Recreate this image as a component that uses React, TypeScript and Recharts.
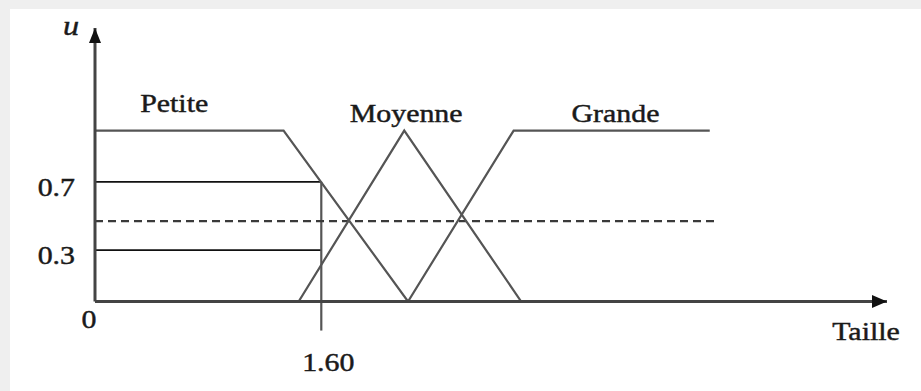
import {
  ComposedChart,
  Line,
  ReferenceDot,
  ReferenceLine,
  XAxis,
  YAxis
} from "recharts";

// fuzzy sets on "Taille" (m) -> membership u
const petiteT = [1.0, 1.5, 1.83];
const petiteU = [1, 1, 0];
const moyenneT = [1.54, 1.82, 2.13];
const moyenneU = [0, 1, 0];
const grandeT = [1.83, 2.11, 2.63];
const grandeU = [0, 1, 1];

const mesure = 1.6; // measured height
const degres = [0.7, 0.3]; // membership read at 1.60
const seuil = 0.47; // dashed cut level
const seuilFin = 2.65;

const tailleMin = 1.0;
const tailleMax = 3.1;
const uMax = 1.6;
const yTicks = [0, 0.3, 0.7];
const xTicks = [1.6];

const setLabels = [
  { name: "Petite", t: 1.21, u: 1, dy: -19 },
  { name: "Moyenne", t: 1.825, u: 1, dy: -9 },
  { name: "Grande", t: 2.38, u: 1, dy: -9 }
];

const zip = (ts: number[], us: number[]) => ts.map((t, i) => ({ t, u: us[i] }));

const FONT = "'Liberation Serif', 'Times New Roman', serif";
const INK = "#1a1a1a";
const LINE = "#555";
const AXIS = "#444";

function SerifText(props: { x: number; y: number; children: any; anchor?: string; size?: number; italic?: boolean }) {
  const { x, y, anchor = "middle", size = 26, italic } = props;
  return (
    <text
      transform={`translate(${x},${y}) scale(1.15,1)`}
      textAnchor={anchor as any}
      fontFamily={FONT}
      fontSize={size}
      fontStyle={italic ? "italic" : "normal"}
      fill={INK}
      stroke={INK}
      strokeWidth={0.45}
    >
      {props.children}
    </text>
  );
}

function YTick(props: any) {
  const { x, y, payload } = props;
  if (payload.value === 0) {
    return <SerifText x={x - 6} y={y + 26}>0</SerifText>;
  }
  return (
    <SerifText x={x - 20} y={y + 14} anchor="end">
      {payload.value.toFixed(1)}
    </SerifText>
  );
}

function XTick(props: any) {
  const { x, y, payload } = props;
  return <SerifText x={x + 7} y={y + 69}>{payload.value.toFixed(2)}</SerifText>;
}

function UpArrow(props: any) {
  const { cx, cy } = props;
  return (
    <g>
      <path d={`M${cx},${cy} L${cx - 6},${cy + 15} L${cx + 6},${cy + 15} Z`} fill="#111" />
      <SerifText x={cx - 24} y={cy + 7} italic size={28}>u</SerifText>
    </g>
  );
}

function RightArrow(props: any) {
  const { cx, cy } = props;
  return (
    <g>
      <path d={`M${cx},${cy} L${cx - 15},${cy - 6.5} L${cx - 15},${cy + 6.5} Z`} fill="#111" />
      <SerifText x={cx - 21} y={cy + 38}>Taille</SerifText>
    </g>
  );
}

export default function App() {
  return (
    <div style={{ position: "absolute", left: 0, top: 0, width: 921, height: 391, background: "#efefef" }}>
      <div style={{ position: "absolute", left: 10, top: 9, right: 0, bottom: 0, background: "#fff" }} />
      <div style={{ position: "absolute", left: 0, top: 0 }}>
        <ComposedChart width={921} height={391} margin={{ top: 28, right: 34, bottom: 30, left: 35 }}>
          <XAxis
            type="number"
            dataKey="t"
            domain={[tailleMin, tailleMax]}
            ticks={xTicks}
            tick={<XTick />}
            tickLine={false}
            tickSize={0}
            tickMargin={0}
            height={59.5}
            axisLine={{ stroke: AXIS, strokeWidth: 3 }}
            allowDataOverflow
          />
          <YAxis
            type="number"
            dataKey="u"
            domain={[0, uMax]}
            ticks={yTicks}
            tick={<YTick />}
            tickLine={false}
            tickSize={0}
            tickMargin={0}
            width={60}
            axisLine={{ stroke: AXIS, strokeWidth: 3 }}
            allowDataOverflow
          />

          {degres.map((d) => (
            <ReferenceLine
              key={d}
              segment={[{ x: tailleMin, y: d }, { x: mesure, y: d }]}
              stroke="#111"
              strokeWidth={1.7}
              ifOverflow="visible"
            />
          ))}
          <ReferenceLine
            segment={[{ x: mesure, y: degres[0] }, { x: mesure, y: -0.17 }]}
            stroke={LINE}
            strokeWidth={2.2}
            ifOverflow="visible"
          />
          <ReferenceLine
            segment={[{ x: tailleMin, y: seuil }, { x: seuilFin, y: seuil }]}
            stroke="#3a3a3a"
            strokeWidth={2.2}
            strokeDasharray="8 5"
            ifOverflow="visible"
          />

          <Line data={zip(petiteT, petiteU)} dataKey="u" type="linear" stroke={LINE} strokeWidth={2.2} dot={false} isAnimationActive={false} />
          <Line data={zip(moyenneT, moyenneU)} dataKey="u" type="linear" stroke={LINE} strokeWidth={2.2} dot={false} isAnimationActive={false} />
          <Line data={zip(grandeT, grandeU)} dataKey="u" type="linear" stroke={LINE} strokeWidth={2.2} dot={false} isAnimationActive={false} />

          {setLabels.map((l) => (
            <ReferenceDot
              key={l.name}
              x={l.t}
              y={l.u}
              ifOverflow="visible"
              shape={(p: any) => <SerifText x={p.cx} y={p.cy + l.dy}>{l.name}</SerifText>}
            />
          ))}

          <ReferenceDot x={tailleMin} y={uMax} ifOverflow="visible" shape={<UpArrow />} />
          <ReferenceDot x={tailleMax} y={0} ifOverflow="visible" shape={<RightArrow />} />
        </ComposedChart>
      </div>
    </div>
  );
}
